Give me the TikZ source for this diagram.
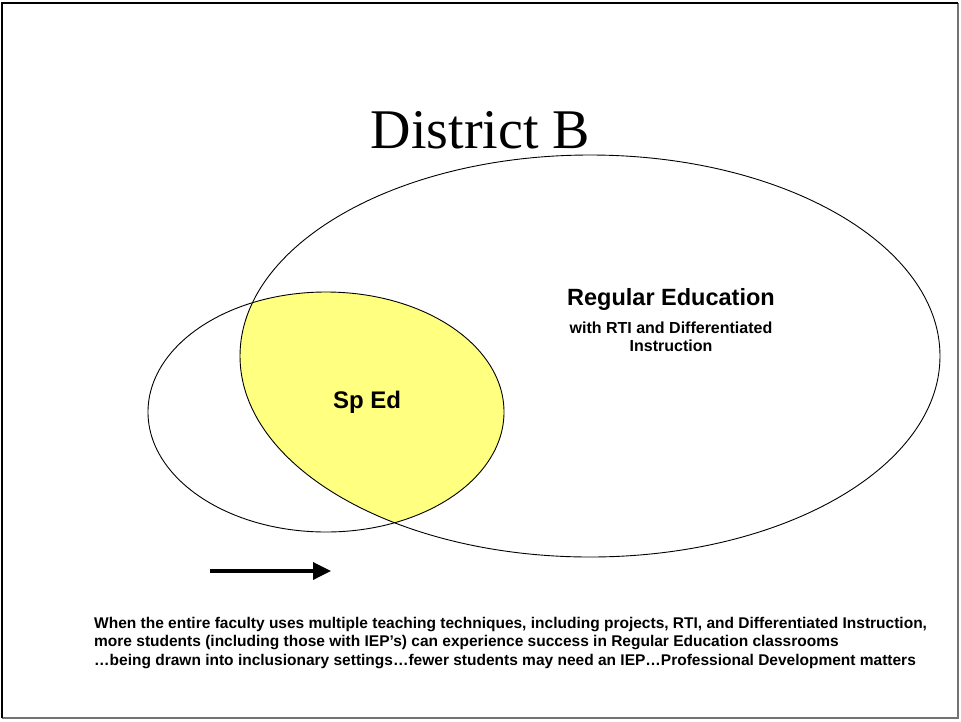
\documentclass[tikz,border=0pt]{standalone}
\usepackage{fontspec}
\setmainfont{Liberation Serif}
\newfontfamily\arialf{Liberation Sans}
\usetikzlibrary{arrows.meta}
\definecolor{spyellow}{HTML}{FFFF80}
\tikzset{
  venn/.style={draw=black, line width=0.9pt},
  framebk/.style={draw=black, line width=2pt},
  framegr/.style={draw=black!55, line width=1.2pt},
  lbl/.style={font=\arialf\bfseries, inner sep=0pt},
}
\begin{document}
\begin{tikzpicture}[x=1pt,y=-1pt]
\useasboundingbox (0,0) rectangle (961,721);
% frame
\coordinate (tl) at (2,3);
\coordinate (tr) at (958,3);
\coordinate (bl) at (2,718);
\coordinate (br) at (958,718);
\draw[framegr] (tr) -- (br) -- (bl);
\draw[framebk] (bl) -- (tl) -- (tr);
% title
\node[font=\fontsize{56}{64}\selectfont, anchor=base, inner sep=0pt] (title) at (480.5,148) {District B};
% yellow intersection
\begin{scope}
  \clip (590,356) ellipse [x radius=350, y radius=201];
  \fill[spyellow] (326,412) ellipse [x radius=178, y radius=120];
\end{scope}
\draw[venn] (590,356) ellipse [x radius=350, y radius=201];
\draw[venn] (326,412) ellipse [x radius=178, y radius=120];
% labels
\node[lbl, font=\arialf\bfseries\fontsize{23.5}{26}\selectfont, anchor=base] (reg) at (671,305) {Regular Education};
\node[lbl, font=\arialf\bfseries\fontsize{16}{18}\selectfont, align=center, anchor=base] (sub) at (671,351) {with RTI and Differentiated\\Instruction};
\node[lbl, font=\arialf\bfseries\fontsize{24}{26}\selectfont, anchor=base] (sped) at (367,408) {Sp Ed};
% arrow
\coordinate (a1) at (210,571);
\coordinate (a2) at (331,571);
\draw[line width=3.5pt, -{Triangle[length=18pt, width=17pt]}] (a1) -- (a2);
% bottom text
\node[lbl, font=\arialf\bfseries\fontsize{15.5}{18.5}\selectfont, align=left, anchor=base west] (note) at (94,665)
{When the entire faculty uses multiple teaching techniques, including projects, RTI, and Differentiated Instruction,\\
more students (including those with IEP’s) can experience success in Regular Education classrooms\\
…being drawn into inclusionary settings…fewer students may need an IEP…Professional Development matters};
\end{tikzpicture}
\end{document}
